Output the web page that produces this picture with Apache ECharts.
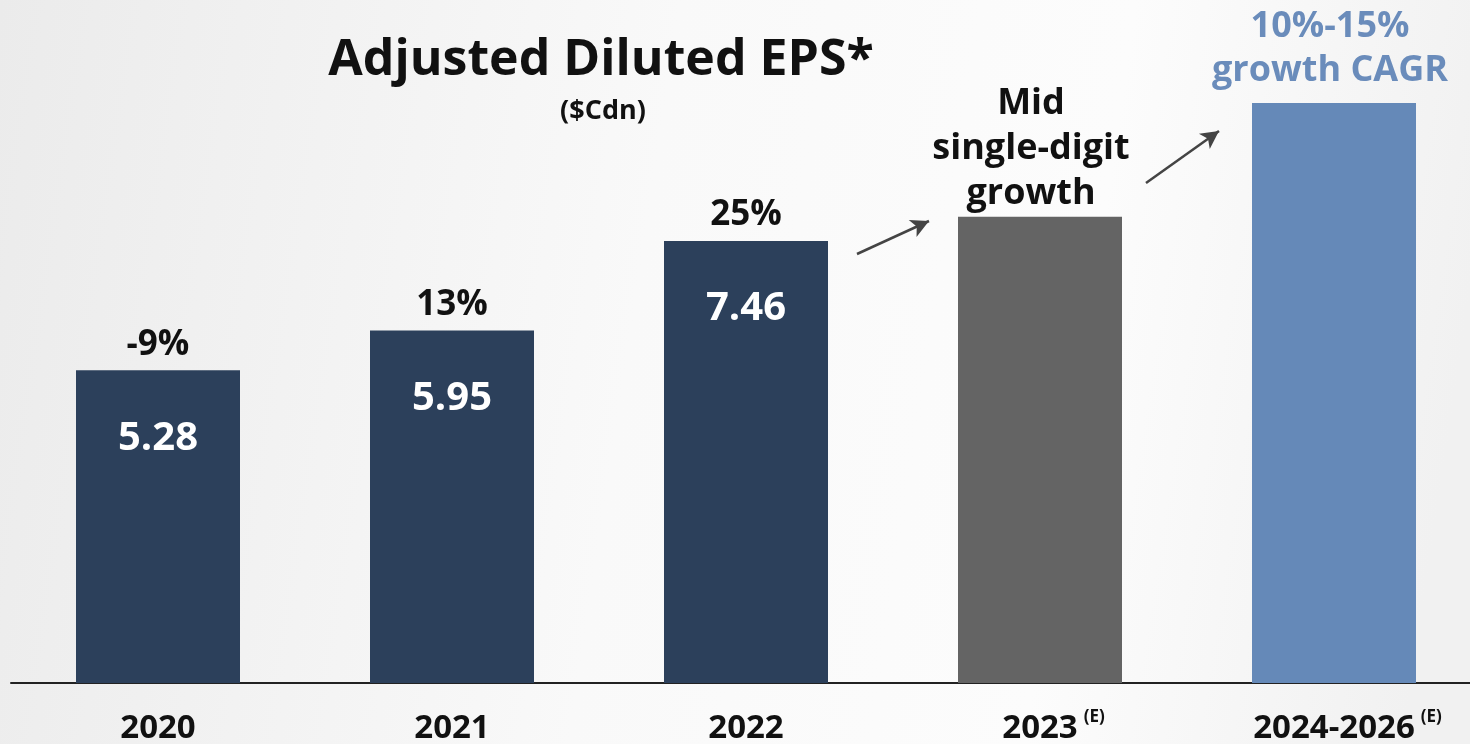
<!DOCTYPE html>
<html><head><meta charset="utf-8">
<script src="https://cdn.jsdelivr.net/npm/echarts@6/dist/echarts.min.js"></script>
<style>html,body{margin:0;padding:0;overflow:hidden;width:1470px;height:744px;}#c{width:1481px;height:744px;}</style>
</head><body><div id="c"></div>
<script>
const categories = ['2020', '2021', '2022', '2023', '2024-2026'];
const estimated = [false, false, false, true, true];
const values = [5.28, 5.95, 7.46, 7.87, 9.79];
const valueLabels = ['5.28', '5.95', '7.46', '', ''];
const growthLabels = ['-9%', '13%', '25%', '', ''];
const barColors = ['#2c405b', '#2c405b', '#2c405b', '#646464', '#6589b8'];

const FONT = '"Open Sans", Lato, sans-serif';
const supStyle = {fontSize: 17, fontWeight: 'bold', fontFamily: FONT, lineHeight: 18, verticalAlign: 'top', padding: [0, 6, 0, 6]};
const chart = echarts.init(document.getElementById('c'));
chart.setOption({
  backgroundColor: {
    type: 'linear', x: 0, y: 0, x2: 1, y2: 0.3,
    colorStops: [{offset: 0, color: '#ebebeb'}, {offset: 0.45, color: '#f9f9f9'}, {offset: 0.75, color: '#fcfcfc'}, {offset: 1, color: '#f1f1f1'}]
  },
  animation: false,
  grid: {left: 11, right: 0, top: 90.5, height: 592.5, outerBoundsMode: 'none', containLabel: false},
  xAxis: {
    type: 'category', data: categories,
    axisLine: {lineStyle: {color: '#222', width: 2}},
    axisTick: {show: false},
    axisLabel: {
      interval: 0, margin: 26, color: '#111', fontFamily: FONT, fontWeight: 'bold', fontSize: 33, lineHeight: 40,
      formatter: (v, i) => estimated[i] ? '{pad|(E)}{main|' + v + '}{sup|(E)}' : '{main|' + v + '}',
      rich: {
        main: {fontSize: 33, fontWeight: 'bold', fontFamily: FONT, color: '#111', lineHeight: 40},
        sup: Object.assign({color: '#111'}, supStyle),
        pad: Object.assign({color: 'rgba(0,0,0,0)'}, supStyle)
      }
    }
  },
  yAxis: {type: 'value', min: 0, max: 10, show: false, splitLine: {show: false}},
  series: [
    {
      type: 'bar', barWidth: 164,
      data: values.map((v, i) => ({value: v, itemStyle: {color: barColors[i]}})),
      label: {
        show: true, position: 'insideTop', distance: 48,
        color: '#fff', fontFamily: FONT, fontWeight: 'bold', fontSize: 40,
        formatter: p => valueLabels[p.dataIndex]
      },
      markLine: {
        silent: true, symbol: ['none', 'arrow'], symbolSize: [14, 18],
        lineStyle: {color: '#444', width: 2.5, type: 'solid'},
        label: {show: false},
        data: [
          [{x: 857, y: 254}, {x: 929, y: 221}],
          [{x: 1146, y: 183}, {x: 1219, y: 131}]
        ]
      }
    },
    {
      type: 'bar', barWidth: 164, barGap: '-100%', silent: true,
      data: values,
      itemStyle: {color: 'rgba(0,0,0,0)'},
      label: {
        show: true, position: 'top', distance: 8,
        color: '#111', fontFamily: FONT, fontWeight: 'bold', fontSize: 35,
        formatter: p => growthLabels[p.dataIndex]
      }
    }
  ],
  graphic: [
    {type: 'text', style: {text: 'Adjusted Diluted EPS*', x: 601, y: 61, align: 'center', verticalAlign: 'middle', font: 'bold 50px ' + FONT, fill: '#111'}},
    {type: 'text', style: {text: '($Cdn)', x: 603, y: 111, align: 'center', verticalAlign: 'middle', font: 'bold 27px ' + FONT, fill: '#111'}},
    {type: 'text', style: {text: 'Mid\nsingle-digit\ngrowth', x: 1031, y: 149, align: 'center', verticalAlign: 'middle', lineHeight: 45, font: 'bold 36px ' + FONT, fill: '#111'}},
    {type: 'text', style: {text: '10%-15%\ngrowth CAGR', x: 1330, y: 49, align: 'center', verticalAlign: 'middle', lineHeight: 44, font: 'bold 36px ' + FONT, fill: '#6a8cbb'}}
  ]
});
</script></body></html>
